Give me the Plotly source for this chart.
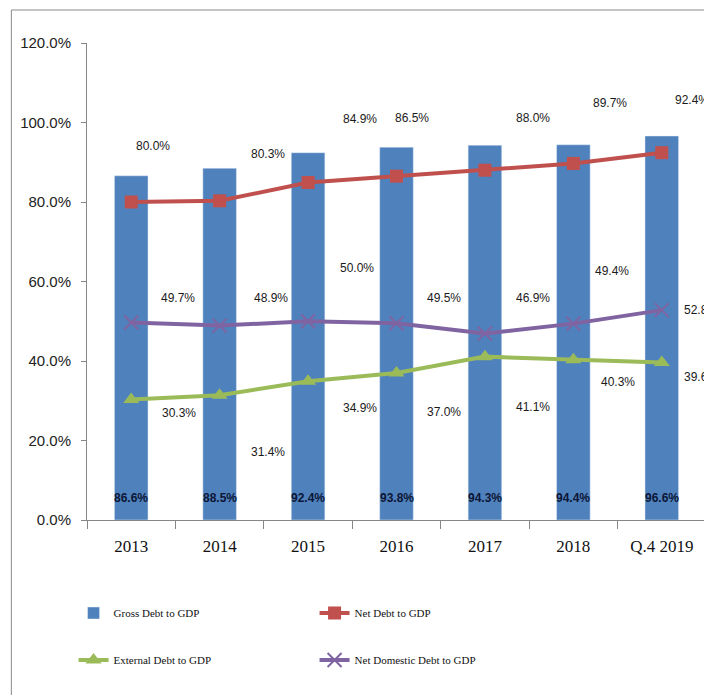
import plotly.graph_objects as go

# ---------------- data ----------------
categories = ["2013", "2014", "2015", "2016", "2017", "2018", "Q.4 2019"]
gross_debt = [86.6, 88.5, 92.4, 93.8, 94.3, 94.4, 96.6]
net_debt = [80.0, 80.3, 84.9, 86.5, 88.0, 89.7, 92.4]
external_debt = [30.3, 31.4, 34.9, 37.0, 41.1, 40.3, 39.6]
net_domestic_debt = [49.7, 48.9, 50.0, 49.5, 46.9, 49.4, 52.8]
y_ticks = [0, 20, 40, 60, 80, 100, 120]
y_tick_labels = [f"{t:.1f}%" for t in y_ticks]

# label pixel offsets (layout only)
net_off = [(22, -56), (48, -47), (52, -64), (15, -58), (48, -52), (37, -60), (30, -53)]
dom_off = [(47, -24), (51, -28), (49, -53), (47, -25), (48, -36), (39, -53), (20, 0)]
ext_off = [(48, 13), (48, 57), (52, 27), (47, 39), (48, 50), (45, 22), (20, 14)]

BLUE = "#4F81BD"
RED = "#C0504D"
GREEN = "#9BBB59"
PURPLE = "#8064A2"
LBL_FONT = dict(family="Liberation Sans", size=12, color="#1a1a1a")

fig = go.Figure()
fig.add_trace(go.Bar(x=categories, y=gross_debt, name="Gross Debt to GDP",
                     marker=dict(color=BLUE), width=0.38, legend="legend"))
fig.add_trace(go.Scatter(x=categories, y=net_debt, name="Net Debt to GDP",
                         mode="lines+markers", line=dict(color=RED, width=4),
                         marker=dict(symbol="square", size=13, color=RED),
                         legend="legend"))
fig.add_trace(go.Scatter(x=categories, y=external_debt, name="External Debt to GDP",
                         mode="lines+markers", line=dict(color=GREEN, width=4),
                         marker=dict(symbol="triangle-up", size=14, color=GREEN),
                         legend="legend2"))
fig.add_trace(go.Scatter(x=categories, y=net_domestic_debt, name="Net Domestic Debt to GDP",
                         mode="lines+markers", line=dict(color=PURPLE, width=4),
                         marker=dict(symbol="x-thin", size=14,
                                     line=dict(color=PURPLE, width=2), color=PURPLE),
                         legend="legend2"))

annotations = []
def add_labels(values, offsets, right_last=True):
    for i, v in enumerate(values):
        dx, dy = offsets[i]
        anchor = "center"
        if right_last and i == len(values) - 1:
            anchor = "left"
        # x given as category index (category names look numeric)
        annotations.append(dict(x=i, y=v, xref="x", yref="y", text=f"{v:.1f}%",
                                showarrow=False, xshift=dx, yshift=-dy,
                                xanchor=anchor, yanchor="middle", font=LBL_FONT))

add_labels(net_debt, net_off, right_last=False)
add_labels(net_domestic_debt, dom_off)
add_labels(external_debt, ext_off)
for i, v in enumerate(gross_debt):
    annotations.append(dict(x=i, y=0, xref="x", yref="y", text=f"<b>{v:.1f}%</b>",
                            showarrow=False, yshift=22, xanchor="center", yanchor="middle",
                            font=dict(family="Liberation Sans", size=12, color="#0c1636")))

fig.update_layout(
    width=712, height=695, autosize=False,
    margin=dict(l=76, r=14, t=35, b=183),
    paper_bgcolor="white", plot_bgcolor="white",
    showlegend=True,
    annotations=annotations,
    legend=dict(orientation="h", x=-0.0217, y=-0.195, xanchor="left", yanchor="middle",
                entrywidth=196, entrywidthmode="pixels",
                font=dict(family="Liberation Serif", size=11, color="#111")),
    legend2=dict(orientation="h", x=-0.0217, y=-0.2935, xanchor="left", yanchor="middle",
                 entrywidth=196, entrywidthmode="pixels",
                 font=dict(family="Liberation Serif", size=11, color="#111")),
    shapes=[
        dict(type="line", xref="paper", yref="paper", x0=-0.1222, x1=-0.1222,
             y0=1.0692, y1=-0.37, line=dict(color="#8a8a8a", width=1)),
        dict(type="line", xref="paper", yref="paper", x0=-0.1222, x1=1.03,
             y0=1.0692, y1=1.0692, line=dict(color="#8a8a8a", width=1)),
    ],
)
fig.update_yaxes(range=[0, 120], tickmode="array", tickvals=y_ticks, ticktext=y_tick_labels,
                 showgrid=False, zeroline=False, showline=True, linecolor="#868686",
                 linewidth=1, ticks="outside", ticklen=5, tickcolor="#868686",
                 ticklabelstandoff=7,
                 tickfont=dict(family="Liberation Sans", size=15, color="#222"))
fig.update_xaxes(type="category", categoryorder="array", categoryarray=categories,
                 range=[-0.5, len(categories) - 0.5],
                 showgrid=False, showline=True, linecolor="#868686",
                 linewidth=1, ticks="outside", ticklen=8, tickcolor="#868686",
                 tickson="boundaries", tickangle=0, ticklabelstandoff=11,
                 tickfont=dict(family="Liberation Serif", size=17, color="#111"))

fig.write_html("out.html")
